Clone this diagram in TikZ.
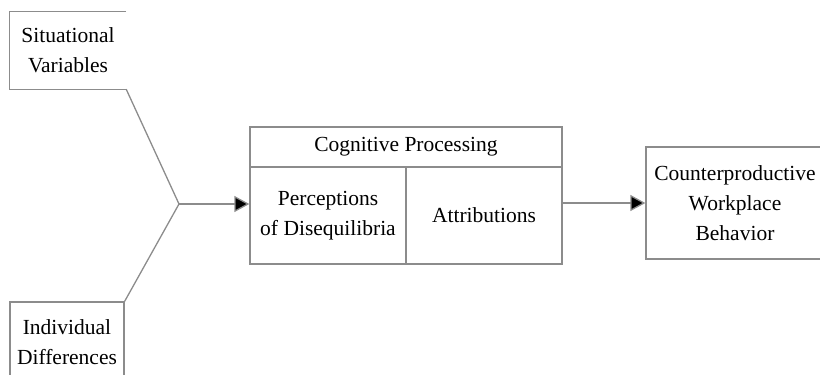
\documentclass[tikz,border=0pt]{standalone}
\usepackage{fontspec}
\setmainfont{Liberation Serif}
\usetikzlibrary{positioning,arrows.meta}

\begin{document}
\begin{tikzpicture}[x=1pt,y=-1pt,
 every node/.style={font=\fontsize{21.5}{30}\selectfont,text=black,align=center,inner sep=0pt},
 box/.style={rectangle,draw=black!45,line width=1.3pt},
 link/.style={draw=black!45,line width=1.3pt},
 tip/.style={-{Triangle[length=15pt,width=16pt,fill=black]}}]
\useasboundingbox (0,0) rectangle (820,375);
\node (sit) [minimum width=116,minimum height=77] at (68,50.5) {Situational\\Variables};
\node[box,minimum width=114,minimum height=80] (ind) at (67,342) {Individual\\Differences};
\node[box,minimum width=312,minimum height=40] (cog) at (406,147) {Cognitive Processing};
\node[box,minimum width=156,minimum height=97] (perc) at (328,215.5) {Perceptions\\of Disequilibria};
\node[box,minimum width=156,minimum height=97] (attr) at (484,215.5) {Attributions};
\node[box,minimum width=178,minimum height=112] (cwb) at (735,203) {Counterproductive\\Workplace\\Behavior};
\coordinate (join) at (179,204);
% situational box, open on the right
\draw[link] (sit.north east)--(sit.north west)--(sit.south west)--(sit.south east);
\draw[link] (sit.south east)--(join)--(ind.north east);
\draw[link,tip] (join)--(join -| perc.west);
\draw[link,tip] (attr.east |- cwb.west)--(cwb.west);
\end{tikzpicture}
\end{document}
